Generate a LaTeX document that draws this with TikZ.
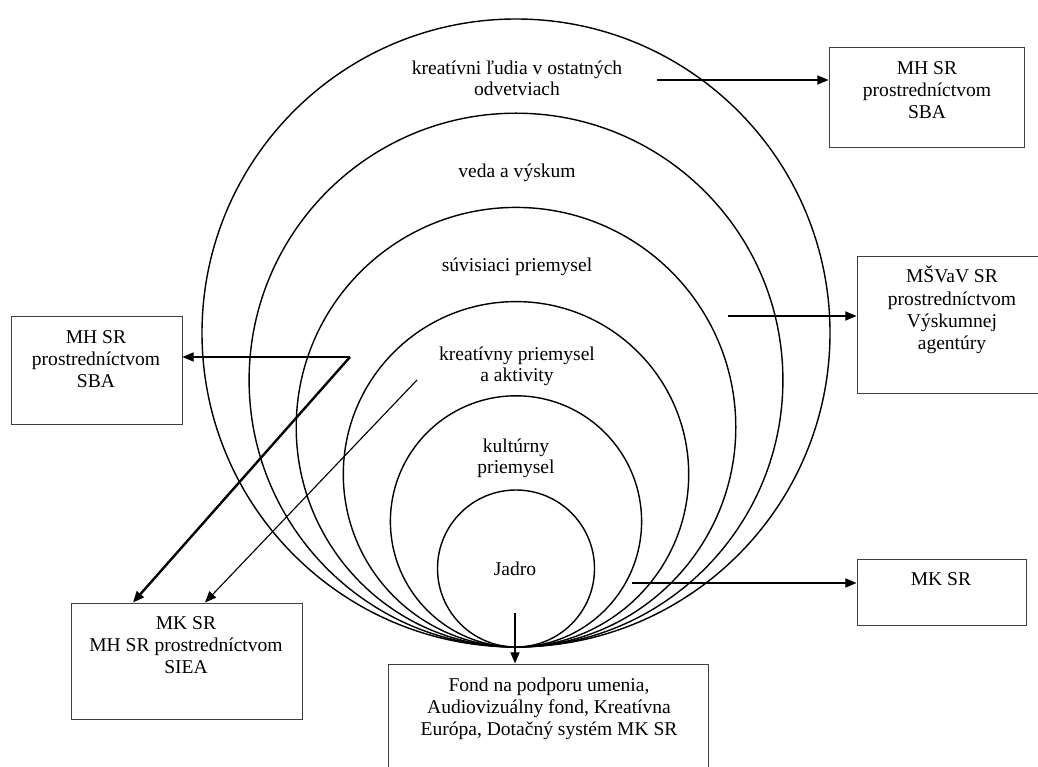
\documentclass[tikz,border=0pt]{standalone}
\usepackage{fontspec}
\setmainfont{Liberation Serif}
\usetikzlibrary{arrows.meta,positioning,calc,fit}

\tikzset{
  ring/.style={line width=1pt},
  lbl/.style={font=\fontsize{13.9}{15}\selectfont,align=center,inner sep=0pt},
  boxtxt/.style={font=\fontsize{13.9}{15.8}\selectfont,align=center,inner sep=0pt},
  agbox/.style={draw=black!75,line width=0.7pt,inner sep=0pt},
  link/.style={line width=1pt,-{Triangle[length=8pt,width=6.5pt]}}
}

\begin{document}
\begin{tikzpicture}[x=0.025cm,y=0.025cm]
 \useasboundingbox (0,0) rectangle (1038,-767);
 \clip (0,0) rectangle (1038,-767);
 % --- rings, all touching at the bottom ---
 \coordinate (bot) at (516,-647);
 \foreach \r in {78.5,125.6,172.7,219.8,266.9,314} \draw[ring] ($(bot)+(0,\r)$) circle (\r);
 \node[lbl] (ludia)  at (517,-78)  {kreatívni ľudia v ostatných\\odvetviach};
 \node[lbl] (veda)   at (517,-173) {veda a výskum};
 \node[lbl] (suvis)  at (517,-267) {súvisiaci priemysel};
 \node[lbl] (kreat)  at (517,-366) {kreatívny priemysel\\a aktivity};
 \node[lbl] (kultur) at (516,-458) {kultúrny\\priemysel};
 \node[lbl] (jadro)  at (515,-569) {Jadro};
 % --- boxes ---
 \node[agbox,fit={(829,-47) (1024,-147)}]  (sbaR) {};
 \node[agbox,fit={(857,-256) (1047,-393)}] (msvv) {};
 \node[agbox,fit={(857,-559) (1026,-625)}] (mkR)  {};
 \node[agbox,fit={(11,-316) (182,-424)}]   (sbaL) {};
 \node[agbox,fit={(71,-603) (302,-719)}]   (siea) {};
 \node[agbox,fit={(388,-664) (708,-790)}]  (fond) {};
 \node[boxtxt] (sbaRt) at (927,-90)  {MH SR\\prostredníctvom\\SBA};
 \node[boxtxt] (msvvt) at (952,-310) {MŠVaV SR\\prostredníctvom\\Výskumnej\\agentúry};
 \node[boxtxt] (mkRt)  at (941,-579) {MK SR};
 \node[boxtxt] (sbaLt) at (96,-359)  {MH SR\\prostredníctvom\\SBA};
 \node[boxtxt] (sieat) at (186,-645) {MK SR\\MH SR prostredníctvom\\SIEA};
 \node[boxtxt] (fondt) at (549,-709) {Fond na podporu umenia,\\Audiovizuálny fond, Kreatívna\\Európa, Dotačný systém MK SR};
 % --- arrows ---
 \coordinate (fromL) at (657,-80);
 \coordinate (fromV) at (728,-316);
 \coordinate (fromJ) at (632,-583);
 \coordinate (fork)  at (350,-357);
 \coordinate (fromK) at (417,-380);
 \coordinate (fromB) at (515,-613);
 \draw[link] (fromL) -- (fromL -| sbaR.west);
 \draw[link] (fromV) -- (fromV -| msvv.west);
 \draw[link] (fromJ) -- (fromJ -| mkR.west);
 \draw[link] (fork) -- (fork -| sbaL.east);
 \draw[link,line width=1.7pt] (fork) -- (siea.north -| 133,0);
 \draw[link,line width=0.8pt] (fromK) -- (siea.north -| 205,0);
 \draw[link] (fromB) -- (fromB |- fond.north);
\end{tikzpicture}
\end{document}
